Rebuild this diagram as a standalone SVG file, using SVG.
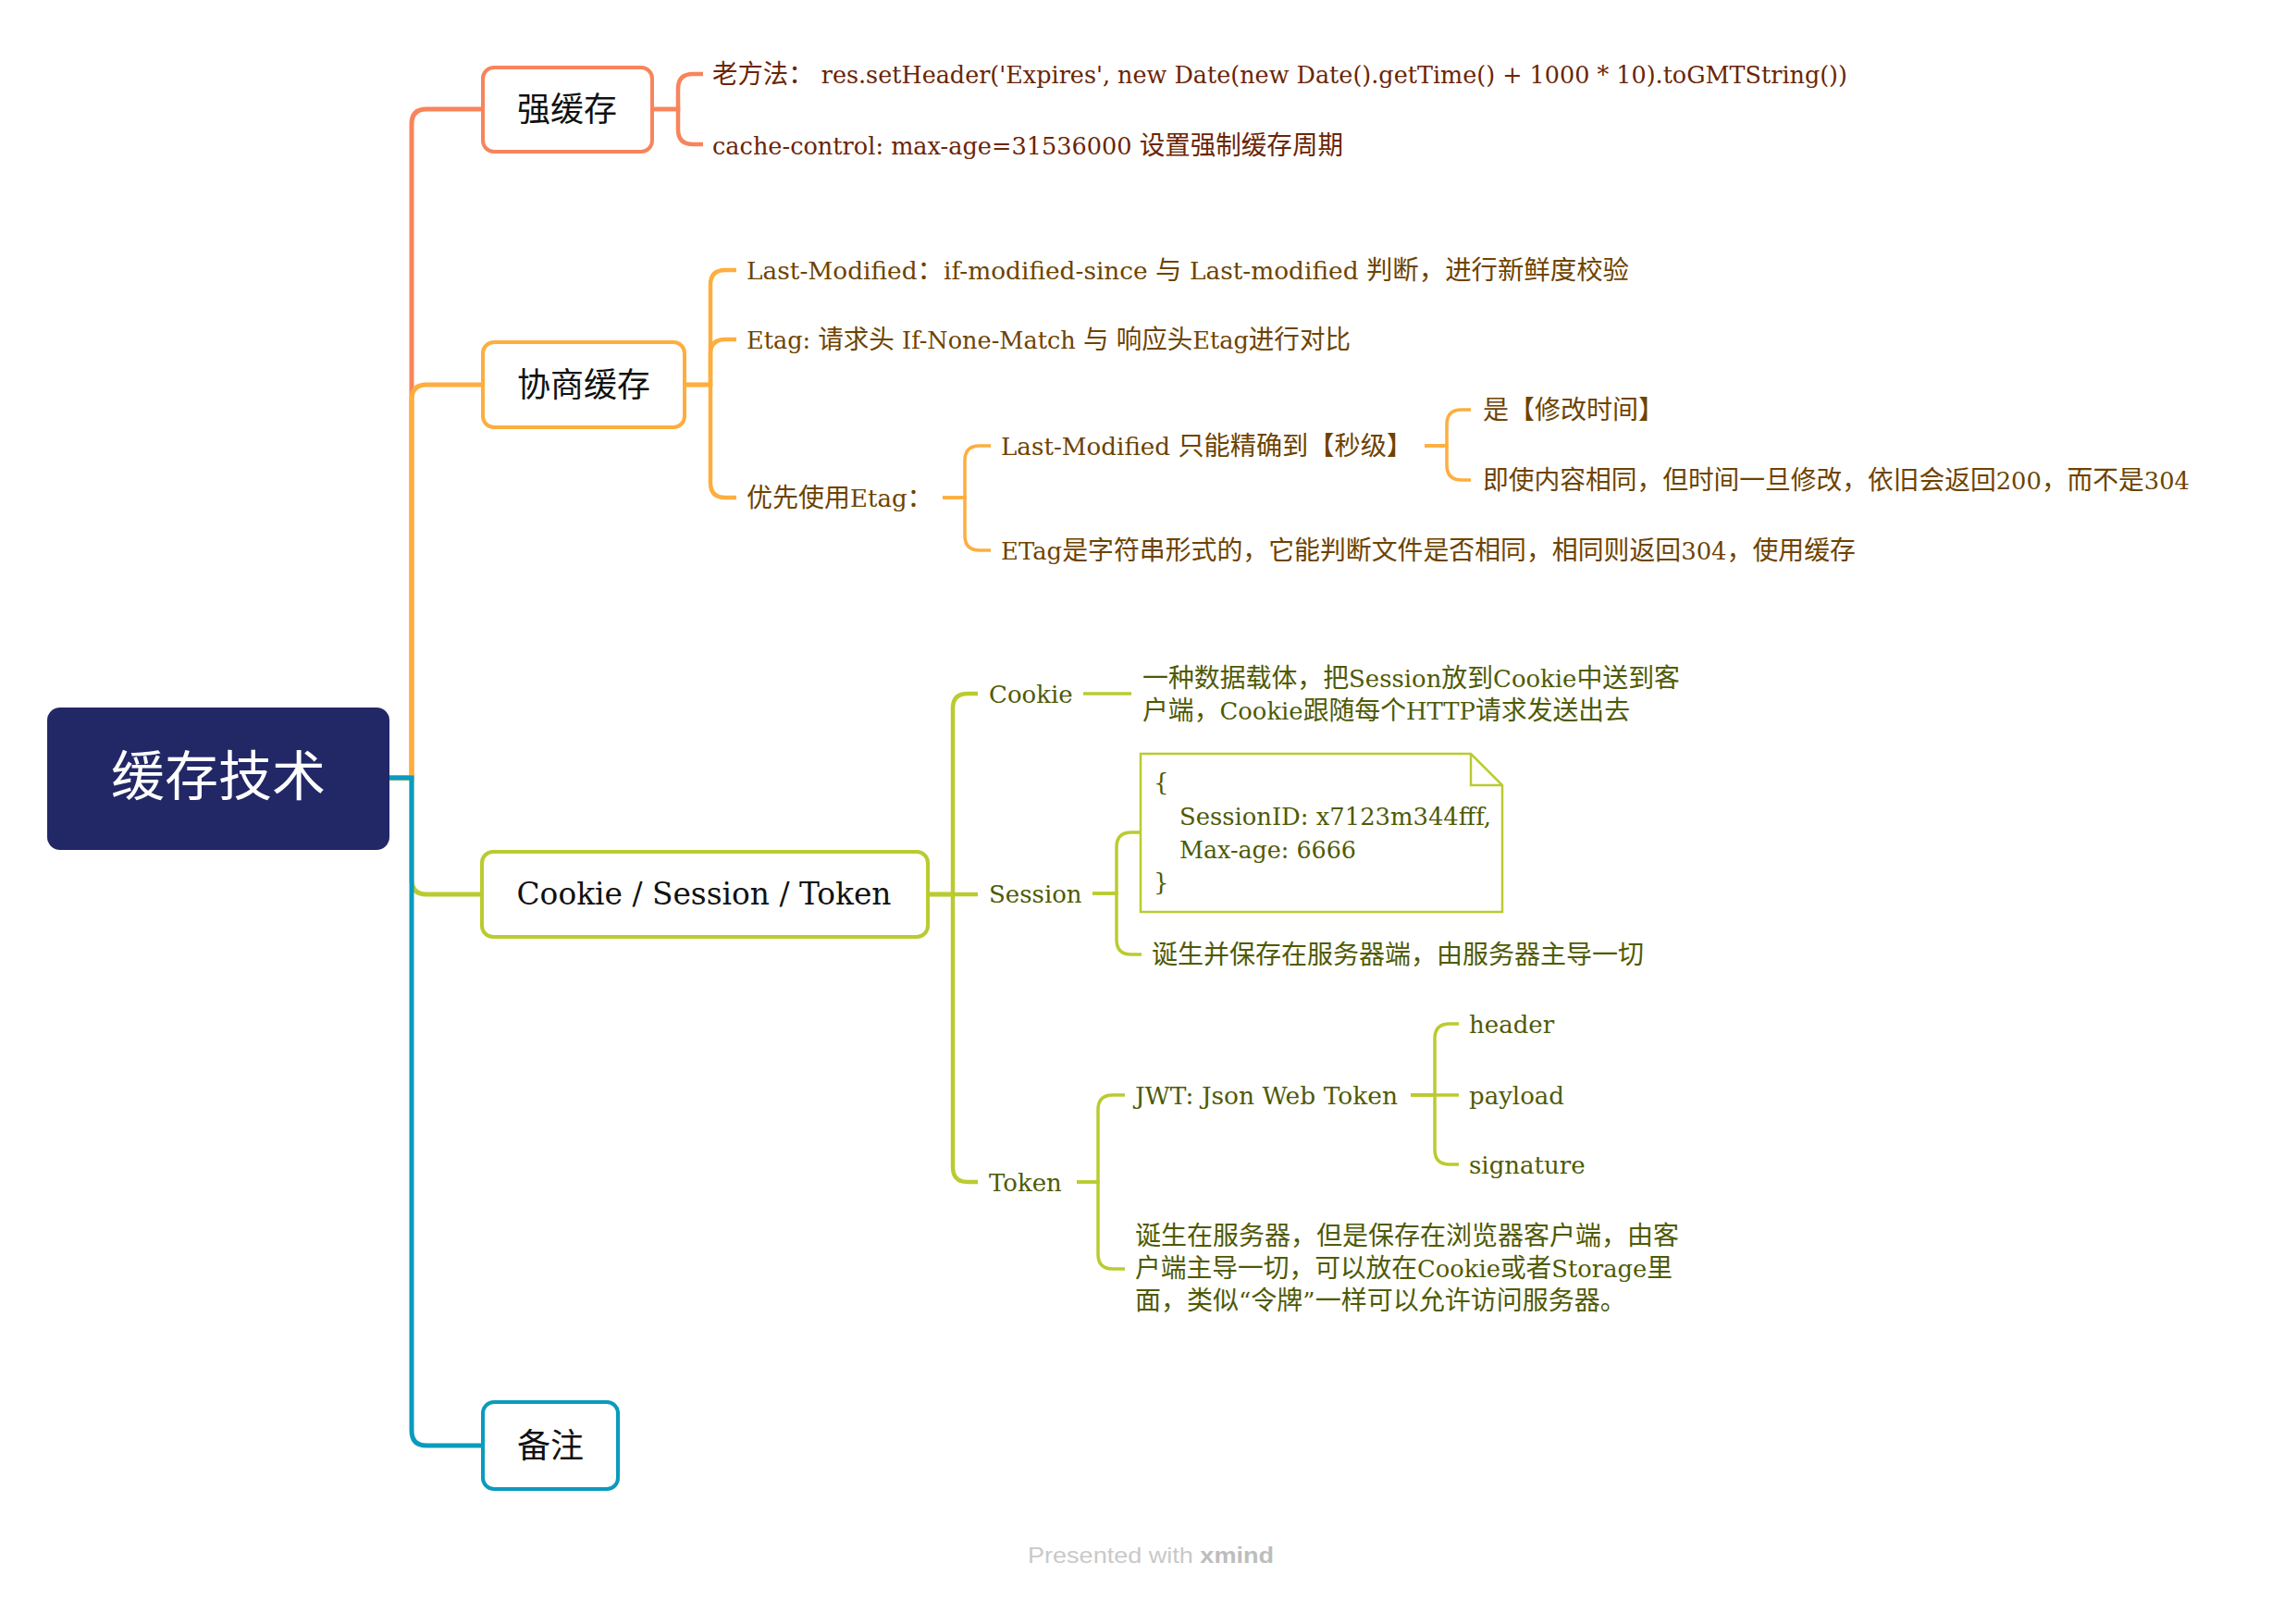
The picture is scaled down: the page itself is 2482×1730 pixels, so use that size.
<svg xmlns="http://www.w3.org/2000/svg" width="2482" height="1730" viewBox="0 0 2482 1730">
<style>
text{font-family:"DejaVu Serif","Noto Sans CJK SC",serif;}
.nt{font-family:"Noto Sans CJK SC","Liberation Sans",sans-serif;font-size:36px;fill:#111;text-anchor:middle}
.ns{font-size:34px;fill:#111;text-anchor:middle}
.s{font-size:26px}
.cj{font-family:"Noto Sans CJK SC",sans-serif;font-size:28px}
.c1{fill:#6B2505}
.c2{fill:#6E4300}
.c3{fill:#4F5A05}
.box{fill:#fff;stroke-width:4}
.l1{fill:none;stroke-width:5}
.l2{fill:none;stroke-width:4.5}
.l3{fill:none;stroke-width:3.5}
.sa{stroke:#F8845C}
.or{stroke:#FDAE3E}
.gr{stroke:#BACB30}
.te{stroke:#0A9BBE}
</style>
<rect width="2482" height="1730" fill="#fff"/>
<g id="connectors">
  <path class="l1 sa" d="M421,841 H445 V134 Q445,118 461,118 H522"/>
  <path class="l1 or" d="M421,841 H445 V432 Q445,416 461,416 H522"/>
  <path class="l1 gr" d="M421,841 H445 V951 Q445,967 461,967 H521"/>
  <path class="l1 te" d="M421,841 H445 V1547 Q445,1563 461,1563 H522"/>
  <path class="l2 sa" d="M705,118 H733 V96 Q733,80 749,80 H760"/>
  <path class="l2 sa" d="M705,118 H733 V140 Q733,156 749,156 H760"/>
  <path class="l2 or" d="M740,416 H768 V308 Q768,292 784,292 H796"/>
  <path class="l2 or" d="M740,416 H768 V383 Q768,367 784,367 H796"/>
  <path class="l2 or" d="M740,416 H768 V522 Q768,538 784,538 H796"/>
  <path class="l3 or" d="M1019,538 H1043 V498 Q1043,482 1059,482 H1071"/>
  <path class="l3 or" d="M1019,538 H1043 V579 Q1043,595 1059,595 H1071"/>
  <path class="l3 or" d="M1540,482 H1564 V459 Q1564,443 1580,443 H1590"/>
  <path class="l3 or" d="M1540,482 H1564 V503 Q1564,519 1580,519 H1590"/>
  <path class="l2 gr" d="M1003,967 H1030 V766 Q1030,750 1046,750 H1057"/>
  <path class="l2 gr" d="M1003,967 H1057"/>
  <path class="l2 gr" d="M1003,967 H1030 V1262 Q1030,1278 1046,1278 H1057"/>
  <path class="l3 gr" d="M1171,750 H1223"/>
  <path class="l3 gr" d="M1181,966 H1207 V916 Q1207,900 1223,900 H1233"/>
  <path class="l3 gr" d="M1181,966 H1207 V1016 Q1207,1032 1223,1032 H1234"/>
  <path class="l3 gr" d="M1164,1278 H1187 V1200 Q1187,1184 1203,1184 H1216"/>
  <path class="l3 gr" d="M1164,1278 H1187 V1356 Q1187,1372 1203,1372 H1216"/>
  <path class="l3 gr" d="M1525,1184 H1551 V1123 Q1551,1107 1567,1107 H1577"/>
  <path class="l3 gr" d="M1525,1184 H1577"/>
  <path class="l3 gr" d="M1525,1184 H1551 V1243 Q1551,1259 1567,1259 H1577"/>
</g>
<g id="root">
  <rect x="51" y="765" width="370" height="154" rx="14" fill="#222866"/>
  <text x="236" y="860" font-size="58" fill="#fff" text-anchor="middle" style="font-family:'Noto Sans CJK SC',sans-serif">缓存技术</text>
</g>
<g id="strong-cache">
  <rect class="box sa" x="522" y="73" width="183" height="91" rx="12"/>
  <text class="nt" x="613" y="131">强缓存</text>
</g>
<g id="old-method">
  <text class="s c1" x="770" y="90" textLength="1227" lengthAdjust="spacingAndGlyphs"><tspan class="cj">老方法：</tspan> res.setHeader('Expires', new Date(new Date().getTime() + 1000 * 10).toGMTString())</text>
</g>
<g id="cache-control">
  <text class="s c1" x="770" y="167" textLength="682" lengthAdjust="spacingAndGlyphs">cache-control: max-age=31536000 <tspan class="cj">设置强制缓存周期</tspan></text>
</g>
<g id="nego-cache">
  <rect class="box or" x="522" y="370" width="218" height="92" rx="12"/>
  <text class="nt" x="631" y="429">协商缓存</text>
</g>
<g id="last-modified">
  <text class="s c2" x="807" y="302" textLength="954" lengthAdjust="spacingAndGlyphs">Last-Modified<tspan class="cj">：</tspan>if-modified-since <tspan class="cj">与</tspan> Last-modified <tspan class="cj">判断，进行新鲜度校验</tspan></text>
</g>
<g id="etag">
  <text class="s c2" x="807" y="377" textLength="653" lengthAdjust="spacingAndGlyphs">Etag: <tspan class="cj">请求头</tspan> If-None-Match <tspan class="cj">与</tspan> <tspan class="cj">响应头</tspan>Etag<tspan class="cj">进行对比</tspan></text>
</g>
<g id="prefer-etag">
  <text class="s c2" x="807" y="548"><tspan class="cj">优先使用</tspan>Etag<tspan class="cj">：</tspan></text>
</g>
<g id="lm-seconds">
  <text class="s c2" x="1082" y="492" textLength="445" lengthAdjust="spacingAndGlyphs">Last-Modified <tspan class="cj">只能精确到【秒级】</tspan></text>
</g>
<g id="modify-time">
  <text class="s c2 cj" x="1603" y="453">是【修改时间】</text>
</g>
<g id="still-200">
  <text class="s c2" x="1603" y="529" textLength="764" lengthAdjust="spacingAndGlyphs"><tspan class="cj">即使内容相同，但时间一旦修改，依旧会返回</tspan>200<tspan class="cj">，而不是</tspan>304</text>
</g>
<g id="etag-string">
  <text class="s c2" x="1082" y="605" textLength="924" lengthAdjust="spacingAndGlyphs">ETag<tspan class="cj">是字符串形式的，它能判断文件是否相同，相同则返回</tspan>304<tspan class="cj">，使用缓存</tspan></text>
</g>
<g id="cst">
  <rect class="box gr" x="521" y="921" width="482" height="92" rx="12"/>
  <text class="ns" x="761" y="978" textLength="405" lengthAdjust="spacingAndGlyphs">Cookie / Session / Token</text>
</g>
<g id="cookie">
  <text class="s c3" x="1069" y="760">Cookie</text>
</g>
<g id="cookie-desc">
  <text class="s c3"><tspan x="1235" y="743" textLength="581" lengthAdjust="spacingAndGlyphs"><tspan class="cj">一种数据载体，把</tspan>Session<tspan class="cj">放到</tspan>Cookie<tspan class="cj">中送到客</tspan></tspan><tspan x="1235" y="778" textLength="527" lengthAdjust="spacingAndGlyphs"><tspan class="cj">户端，</tspan>Cookie<tspan class="cj">跟随每个</tspan>HTTP<tspan class="cj">请求发送出去</tspan></tspan></text>
</g>
<g id="session">
  <text class="s c3" x="1069" y="976">Session</text>
</g>
<g id="session-note">
  <path d="M1233,815 H1590 L1624,849 V986 H1233 Z" fill="#fff" stroke="#BACB30" stroke-width="2.5"/>
  <path d="M1590,815 V849 H1624" fill="none" stroke="#BACB30" stroke-width="2.5"/>
  <text class="s c3"><tspan x="1247" y="855">{</tspan><tspan x="1275" y="892" textLength="337" lengthAdjust="spacingAndGlyphs">SessionID: x7123m344fff,</tspan><tspan x="1275" y="928" textLength="191" lengthAdjust="spacingAndGlyphs">Max-age: 6666</tspan><tspan x="1247" y="963">}</tspan></text>
</g>
<g id="session-born">
  <text class="s c3 cj" x="1245" y="1042">诞生并保存在服务器端，由服务器主导一切</text>
</g>
<g id="token">
  <text class="s c3" x="1069" y="1288">Token</text>
</g>
<g id="jwt">
  <text class="s c3" x="1227" y="1194" textLength="284" lengthAdjust="spacingAndGlyphs">JWT: Json Web Token</text>
</g>
<g id="header">
  <text class="s c3" x="1588" y="1117">header</text>
</g>
<g id="payload">
  <text class="s c3" x="1588" y="1194">payload</text>
</g>
<g id="signature">
  <text class="s c3" x="1588" y="1269">signature</text>
</g>
<g id="token-desc">
  <text class="s c3"><tspan class="cj" x="1227" y="1346">诞生在服务器，但是保存在浏览器客户端，由客</tspan><tspan x="1227" y="1381" textLength="581" lengthAdjust="spacingAndGlyphs"><tspan class="cj">户端主导一切，可以放在</tspan>Cookie<tspan class="cj">或者</tspan>Storage<tspan class="cj">里</tspan></tspan><tspan x="1227" y="1416"><tspan class="cj">面，类似</tspan>“<tspan class="cj">令牌</tspan>”<tspan class="cj">一样可以允许访问服务器。</tspan></tspan></text>
</g>
<g id="note">
  <rect class="box te" x="522" y="1516" width="146" height="94" rx="12"/>
  <text class="nt" x="595" y="1576">备注</text>
</g>
<g id="footer">
  <text x="1111" y="1690" font-size="24" style="font-family:'Liberation Sans',sans-serif" textLength="266" lengthAdjust="spacingAndGlyphs"><tspan fill="#C9C9C9">Presented with </tspan><tspan fill="#BDBDBD" font-weight="bold">xmind</tspan></text>
</g>
</svg>
